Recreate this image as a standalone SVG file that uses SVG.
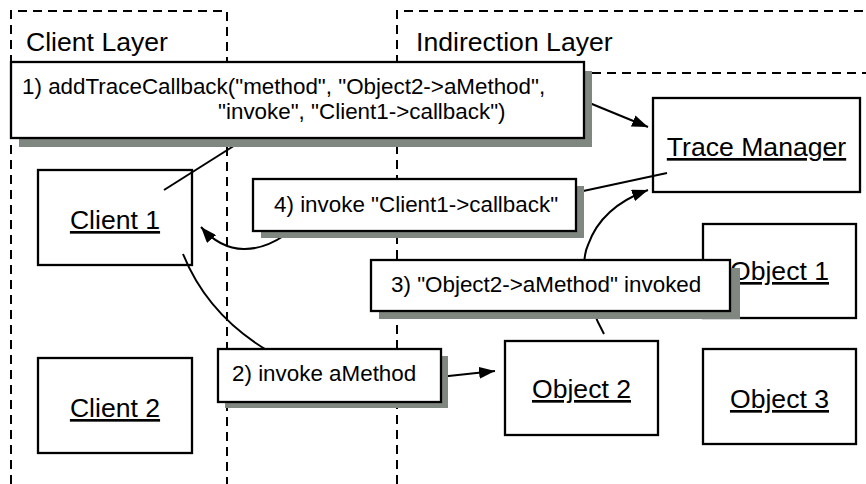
<svg xmlns="http://www.w3.org/2000/svg" width="866" height="484" viewBox="0 0 866 484">
<style>
  .layer{fill:none;stroke:#000;stroke-width:2;stroke-dasharray:9 6}
  .node{fill:#fff;stroke:#000;stroke-width:2.3}
  .msg{fill:#fff;stroke:#000;stroke-width:2.3}
  .shadow{fill:#808780}
  .conn{fill:none;stroke:#000;stroke-width:2}
  .big{font-family:"Liberation Sans",Arial,sans-serif;font-size:26.6px;fill:#000}
  .lbl{font-family:"Liberation Sans",Arial,sans-serif;font-size:26.6px;fill:#000;text-anchor:middle;text-decoration:underline}
  .m{font-family:"Liberation Sans",Arial,sans-serif;font-size:22.4px;fill:#000}
</style>
<defs>
  <marker id="arr" markerUnits="userSpaceOnUse" markerWidth="17" markerHeight="12" refX="16" refY="6" orient="auto">
    <path d="M0,0 L16,6 L0,12 z" fill="#000"/>
  </marker>
</defs>
<rect width="866" height="484" fill="#fff"/>
<g id="layers">
  <path class="layer" d="M11,484 V11 H227 V484"/>
  <path class="layer" d="M397,484 V11 H866"/>
  <path class="layer" d="M397,73 H866"/>
  <text class="big" x="26" y="51">Client Layer</text>
  <text class="big" x="416" y="51">Indirection Layer</text>
</g>
<g id="client1"><rect class="node" x="38" y="170" width="154" height="95"/><text class="lbl" x="115" y="229">Client 1</text></g>
<g id="client2"><rect class="node" x="38" y="358" width="154" height="95"/><text class="lbl" x="115" y="417">Client 2</text></g>
<g id="traceManager"><rect class="node" x="653" y="98" width="207" height="94"/><text class="lbl" x="756.5" y="156">Trace Manager</text></g>
<g id="object1"><rect class="node" x="703" y="224" width="153" height="94"/><text class="lbl" x="779.5" y="280">Object 1</text></g>
<g id="object2"><rect class="node" x="505" y="341" width="153" height="94"/><text class="lbl" x="581.5" y="398">Object 2</text></g>
<g id="object3"><rect class="node" x="703" y="349" width="153" height="95"/><text class="lbl" x="779.5" y="408">Object 3</text></g>
<g id="connectors">
  <path class="conn" d="M164,190 L240,142"/>
  <path class="conn" d="M570,95 L648,127" marker-end="url(#arr)"/>
  <path class="conn" d="M667,173 L560,196"/>
  <path class="conn" d="M285,235 C260,252 228,258 201,227" marker-end="url(#arr)"/>
  <path class="conn" d="M183,254 Q208,316 270,352"/>
  <path class="conn" d="M430,378 L495,371" marker-end="url(#arr)"/>
  <path class="conn" d="M604,334 C585,300 580,262 588,245 C596,222 615,202 648,190" marker-end="url(#arr)"/>
</g>
<g id="msg1">
  <rect class="shadow" x="19" y="71" width="573" height="76"/>
  <rect class="msg" x="11" y="62" width="573" height="76"/>
  <text class="m" x="22" y="94">1) addTraceCallback("method", "Object2-&gt;aMethod",</text>
  <text class="m" x="218" y="119">"invoke", "Client1-&gt;callback")</text>
</g>
<g id="msg4">
  <rect class="shadow" x="261" y="186" width="323" height="52"/>
  <rect class="msg" x="253" y="179" width="323" height="52"/>
  <text class="m" x="274" y="212">4) invoke "Client1-&gt;callback"</text>
</g>
<g id="msg3">
  <rect class="shadow" x="379" y="268" width="361" height="51"/>
  <rect class="msg" x="371" y="260" width="359" height="51"/>
  <text class="m" x="391" y="292">3) "Object2-&gt;aMethod" invoked</text>
</g>
<g id="msg2">
  <rect class="shadow" x="225" y="356" width="223" height="52"/>
  <rect class="msg" x="218" y="349" width="223" height="53"/>
  <text class="m" x="232" y="381">2) invoke aMethod</text>
</g>
</svg>
